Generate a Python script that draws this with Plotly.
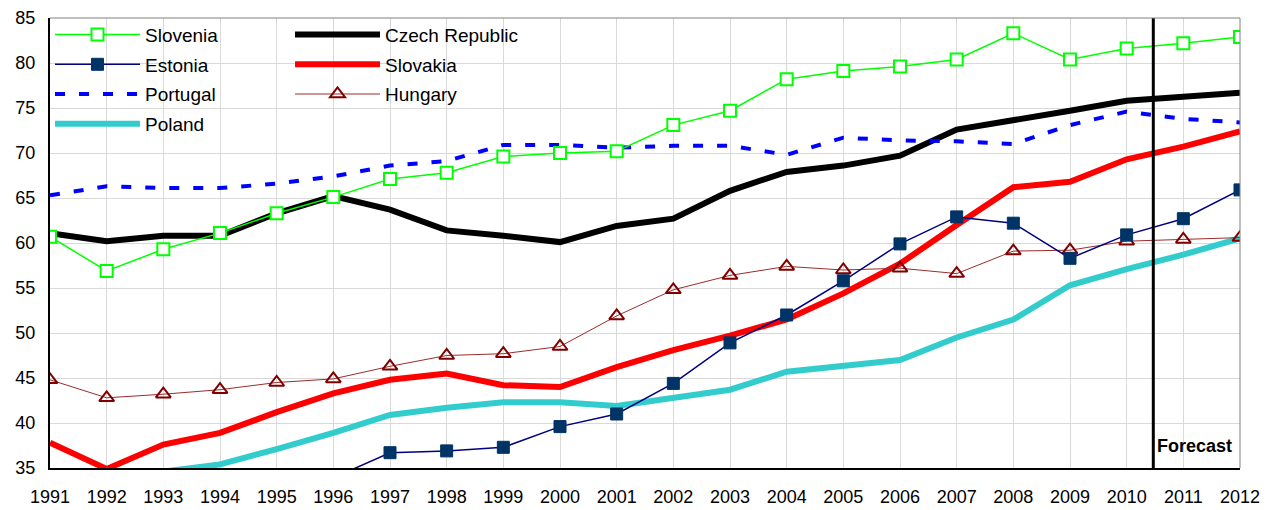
import plotly.graph_objects as go

years = list(range(1991, 2013))

slovenia = [60.7, 56.9, 59.3, 61.1, 63.3, 65.1, 67.1, 67.8, 69.6, 70.0, 70.2,
            73.1, 74.7, 78.2, 79.1, 79.6, 80.4, 83.3, 80.4, 81.6, 82.2, 82.9]
czech = [61.1, 60.2, 60.8, 60.8, 63.3, 65.2, 63.7, 61.4, 60.8, 60.1, 61.9,
         62.7, 65.8, 67.9, 68.6, 69.7, 72.6, 73.6, 74.7, 75.8, 76.2, 76.7]
estonia = [None, None, None, None, None, 33.9, 36.7, 36.9, 37.3, 39.6, 41.0,
           44.4, 48.9, 52.0, 55.8, 59.9, 62.9, 62.2, 58.3, 60.9, 62.7, 65.9]
slovakia = [37.8, 34.9, 37.6, 38.9, 41.2, 43.3, 44.8, 45.5, 44.2, 44.0, 46.2,
            48.1, 49.7, 51.5, 54.4, 57.7, 62.0, 66.2, 66.8, 69.3, 70.7, 72.4]
portugal = [65.3, 66.3, 66.1, 66.1, 66.6, 67.4, 68.6, 69.1, 70.9, 70.9, 70.6,
            70.8, 70.8, 69.8, 71.7, 71.4, 71.3, 71.0, 73.1, 74.6, 73.8, 73.4]
hungary = [44.8, 42.8, 43.2, 43.7, 44.5, 44.9, 46.3, 47.5, 47.7, 48.5, 51.9,
           54.8, 56.4, 57.4, 57.0, 57.2, 56.6, 59.1, 59.2, 60.2, 60.4, 60.6]
poland = [32.8, 33.8, 34.6, 35.4, 37.1, 38.9, 40.9, 41.7, 42.3, 42.3, 41.9,
          42.8, 43.7, 45.7, 46.3, 47.0, 49.5, 51.5, 55.3, 57.1, 58.7, 60.5]

forecast_year = 2010.47
FONT = "Liberation Sans"

fig = go.Figure()

fig.add_trace(go.Scatter(
    x=years, y=poland, name="Poland", mode="lines",
    line=dict(color="#33CCCC", width=6),
    legend="legend", legendrank=4, legendgroup="Poland"))
fig.add_trace(go.Scatter(
    x=years, y=czech, name="Czech Republic", mode="lines",
    line=dict(color="#000000", width=6),
    legend="legend2", legendrank=1, legendgroup="Czech Republic"))
fig.add_trace(go.Scatter(
    x=years, y=slovakia, name="Slovakia", mode="lines",
    line=dict(color="#FF0000", width=6),
    legend="legend2", legendrank=2, legendgroup="Slovakia"))
fig.add_trace(go.Scatter(
    x=years, y=portugal, name="Portugal", mode="lines",
    line=dict(color="#0000FF", width=4, dash="10px,14px"),
    legend="legend", legendrank=3, legendgroup="Portugal"))
fig.add_trace(go.Scatter(
    x=years, y=hungary, name="Hungary", mode="lines+markers",
    line=dict(color="#9B2C2C", width=1),
    marker=dict(symbol="triangle-up-open", size=13, color="#800000",
                line=dict(color="#800000", width=2)),
    legend="legend2", legendrank=3, legendgroup="Hungary"))
fig.add_trace(go.Scatter(
    x=years, y=estonia, name="Estonia", mode="lines+markers",
    line=dict(color="#000080", width=1.5),
    marker=dict(symbol="square", size=12, color="#003366",
                line=dict(color="#003366", width=1)),
    legend="legend", legendrank=2, legendgroup="Estonia"))
fig.add_trace(go.Scatter(
    x=years, y=slovenia, name="Slovenia", mode="lines+markers",
    line=dict(color="#00FF00", width=1.5),
    marker=dict(symbol="square", size=12, color="#FFFFFF",
                line=dict(color="#00FF00", width=2)),
    legend="legend", legendrank=1, legendgroup="Slovenia"))

# white legend box covering the grid
fig.add_shape(type="rect", xref="x", yref="y", x0=1991, x1=1999.47, y0=71.7, y1=85,
              fillcolor="white", line=dict(width=0), layer="below")
# forecast divider
fig.add_shape(type="line", xref="x", yref="y domain", x0=forecast_year, x1=forecast_year,
              y0=0, y1=1, line=dict(color="black", width=3), layer="above")
# top and right frame
fig.add_shape(type="line", xref="paper", yref="paper", x0=0, x1=1, y0=1, y1=1,
              line=dict(color="#808080", width=1), layer="above")
fig.add_shape(type="line", xref="paper", yref="paper", x0=1, x1=1, y0=0, y1=1,
              line=dict(color="#808080", width=1), layer="above")

fig.add_annotation(x=forecast_year, y=37.4, xref="x", yref="y", text="<b>Forecast</b>",
                   showarrow=False, xanchor="left", xshift=2,
                   font=dict(family=FONT, size=18, color="black"))

legend_common = dict(bgcolor="rgba(0,0,0,0)", borderwidth=0, yanchor="top",
                     xanchor="left", traceorder="grouped", tracegroupgap=2,
                     itemwidth=85, font=dict(family=FONT, size=19, color="#000000"))
fig.update_layout(
    width=1271, height=510,
    margin=dict(l=50, r=31, t=18, b=42, autoexpand=False),
    plot_bgcolor="white", paper_bgcolor="white",
    font=dict(family=FONT, size=18, color="black"),
    showlegend=True,
    legend=dict(x=0.0, y=1.005, **legend_common),
    legend2=dict(x=0.2017, y=1.005, **legend_common),
    xaxis=dict(range=[1991, 2012], tickmode="array", tickvals=years,
               ticktext=[str(y) for y in years], showgrid=True,
               gridcolor="#D9D9D9", gridwidth=1, showline=True, linecolor="black",
               linewidth=2, ticks="", ticklabelstandoff=11, zeroline=False,
               automargin=False, tickfont=dict(family=FONT, size=18)),
    yaxis=dict(range=[35, 85], dtick=5, showgrid=True, gridcolor="#D9D9D9",
               gridwidth=1, showline=True, linecolor="black", linewidth=2,
               ticks="", ticklabelstandoff=9, zeroline=False,
               automargin=False, tickfont=dict(family=FONT, size=18)),
)

fig.write_html("out.html", config={"displayModeBar": False},
               post_script="document.body.style.margin='0';document.body.style.padding='0';")
